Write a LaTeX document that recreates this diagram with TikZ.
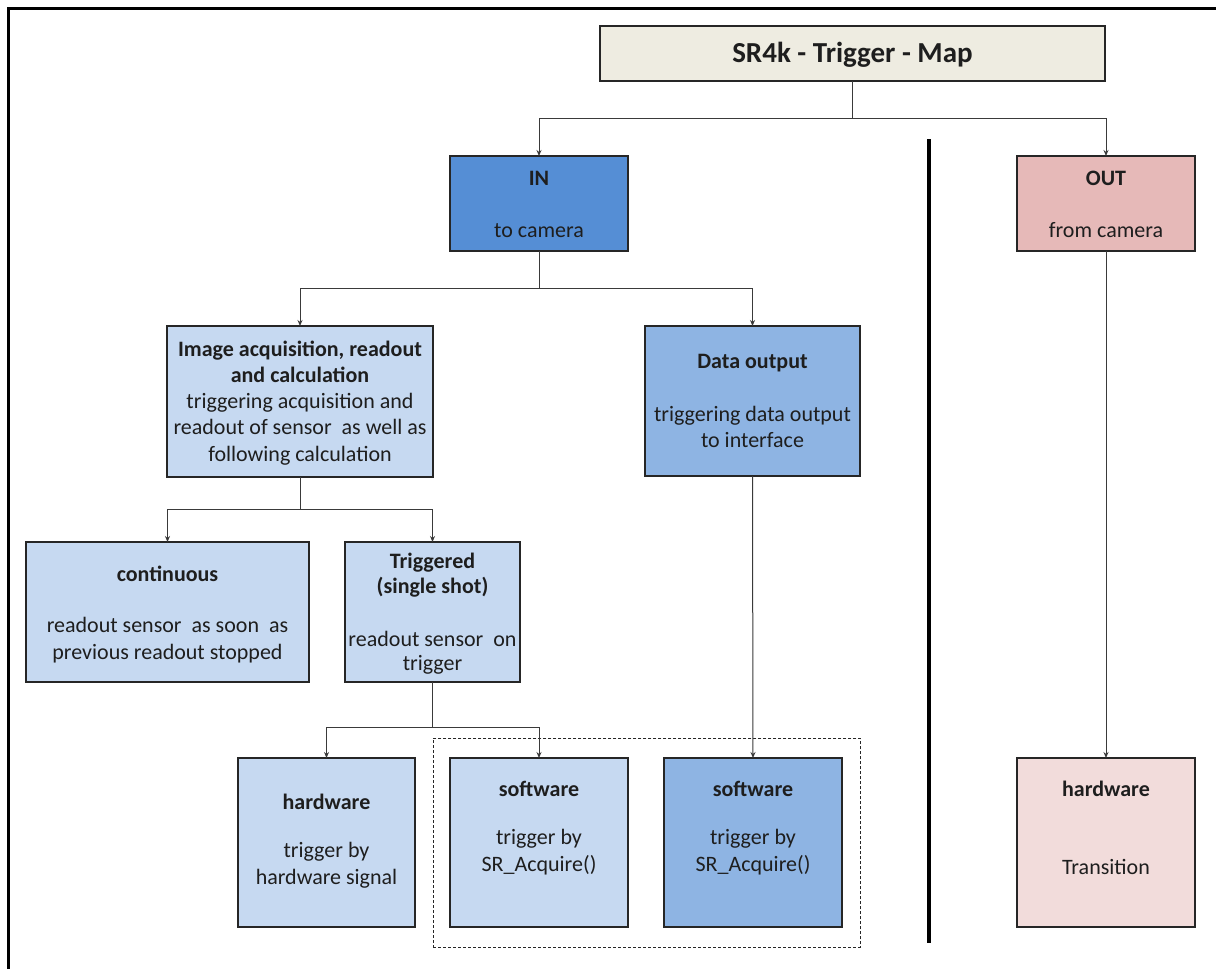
\documentclass[tikz,border=0pt]{standalone}
\usepackage{fontspec}
\setmainfont{Carlito}
\usetikzlibrary{arrows.meta}
\definecolor{titlefill}{HTML}{EEECE1}
\definecolor{infill}{HTML}{558ED5}
\definecolor{lightblue}{HTML}{C6D9F1}
\definecolor{midblue}{HTML}{8EB4E3}
\definecolor{outfill}{HTML}{E6B9B8}
\definecolor{pinkfill}{HTML}{F2DCDB}
\definecolor{edge}{HTML}{262626}
\definecolor{conncol}{HTML}{3A3A3A}
\definecolor{txtcol}{HTML}{1E1E1E}
\begin{document}
\begin{tikzpicture}[x=1pt,y=-1pt,
  box/.style={draw=edge,line width=1.3pt,anchor=north west,inner sep=0pt,outer sep=0pt},
  txt/.style={text=txtcol,font=\fontsize{22}{26}\selectfont,inner sep=0pt,text height=1.5ex,text depth=.25ex,anchor=center,yshift=-4pt},
  hd/.style={txt,font=\fontsize{22}{26}\selectfont\bfseries},
  conn/.style={draw=conncol,line width=1pt},
  arr/.style={conn,-{Stealth[length=6pt,width=5pt]}},
  frame/.style={line width=3pt,black},
  divider/.style={line width=4pt,black},
  grp/.style={draw=edge,line width=0.9pt,dash pattern=on 3pt off 2pt,anchor=north west,inner sep=0pt}]
\useasboundingbox (0,0) rectangle (1216,969);
% frame
\coordinate (f1) at (8,969);
\coordinate (f2) at (8,8);
\coordinate (f3) at (1216,8);
\draw[frame] (f1) -- (f2) -- (f3);
% divider
\coordinate (d1) at (929,139);
\coordinate (d2) at (929,943);
\draw[divider] (d1) -- (d2);
% group
\node[grp,minimum width=427pt,minimum height=209pt] (group) at (433,738) {};
% boxes
\node[box,fill=titlefill,minimum width=505pt,minimum height=55pt] (title) at (600,26) {};
\node[box,fill=infill,minimum width=178pt,minimum height=95pt] (in) at (450,156) {};
\node[box,fill=outfill,minimum width=178pt,minimum height=95pt] (out) at (1017,156) {};
\node[box,fill=lightblue,minimum width=266pt,minimum height=151pt] (acq) at (167,326) {};
\node[box,fill=midblue,minimum width=215pt,minimum height=150pt] (data) at (645,326) {};
\node[box,fill=lightblue,minimum width=283pt,minimum height=140pt] (cont) at (26,542) {};
\node[box,fill=lightblue,minimum width=175pt,minimum height=140pt] (trig) at (345,542) {};
\node[box,fill=lightblue,minimum width=177pt,minimum height=169pt] (hw) at (238,758) {};
\node[box,fill=lightblue,minimum width=178pt,minimum height=169pt] (sw1) at (450,758) {};
\node[box,fill=midblue,minimum width=178pt,minimum height=169pt] (sw2) at (664,758) {};
\node[box,fill=pinkfill,minimum width=178pt,minimum height=169pt] (hw2) at (1017,758) {};
% texts
\node[hd,font=\fontsize{29}{34}\selectfont\bfseries,yshift=-4pt] (titleT) at (852.5,52) {SR4k - Trigger - Map};
\node[hd] (inA) at (539,179) {IN};
\node[txt] (inB) at (539,231) {to camera};
\node[hd] (outA) at (1106,179) {OUT};
\node[txt] (outB) at (1106,231) {from camera};
\node[hd] (acqA) at (300,350) {Image acquisition, readout};
\node[hd] (acqB) at (300,376) {and calculation};
\node[txt] (acqC) at (300,402) {triggering acquisition and};
\node[txt] (acqD) at (300,428) {readout of sensor\ \ as well as};
\node[txt] (acqE) at (300,455) {following calculation};
\node[hd] (dataA) at (752.5,362) {Data output};
\node[txt] (dataB) at (752.5,415) {triggering data output};
\node[txt] (dataC) at (752.5,441) {to interface};
\node[hd] (contA) at (167.5,575) {continuous};
\node[txt] (contB) at (167.5,626) {readout sensor\ \ as soon\ \ as};
\node[txt] (contC) at (167.5,653) {previous readout stopped};
\node[hd] (trigA) at (432.5,562) {Triggered};
\node[hd] (trigB) at (432.5,587) {(single shot)};
\node[txt] (trigC) at (432.5,640) {readout sensor\ \ on};
\node[txt] (trigD) at (432.5,664) {trigger};
\node[hd] (hwA) at (326.5,803) {hardware};
\node[txt] (hwB) at (326.5,851) {trigger by};
\node[txt] (hwC) at (326.5,878) {hardware signal};
\node[hd] (sw1A) at (539,790) {software};
\node[txt] (sw1B) at (539,838) {trigger by};
\node[txt] (sw1C) at (539,865) {SR\_Acquire()};
\node[hd] (sw2A) at (753,790) {software};
\node[txt] (sw2B) at (753,838) {trigger by};
\node[txt] (sw2C) at (753,865) {SR\_Acquire()};
\node[hd] (hw2A) at (1106,790) {hardware};
\node[txt] (hw2B) at (1106,868) {Transition};
% junctions
\coordinate (j1) at (852.5,118);
\coordinate (j2) at (539,288);
\coordinate (j3) at (300,509);
\coordinate (j4) at (432.5,727);
% connectors
\draw[conn] (title.south) -- (j1);
\draw[arr] (j1) -| (in.north);
\draw[arr] (j1) -| (out.north);
\draw[conn] (in.south) -- (j2);
\draw[arr] (j2) -| (acq.north);
\draw[arr] (j2) -| (data.north);
\draw[conn] (acq.south) -- (j3);
\draw[arr] (j3) -| (cont.north);
\draw[arr] (j3) -| (trig.north);
\draw[conn] (trig.south) -- (j4);
\draw[arr] (j4) -| (hw.north);
\draw[arr] (j4) -| (sw1.north);
\draw[arr] (data.south) -- (sw2.north);
\draw[arr] (out.south) -- (hw2.north);
\end{tikzpicture}
\end{document}
